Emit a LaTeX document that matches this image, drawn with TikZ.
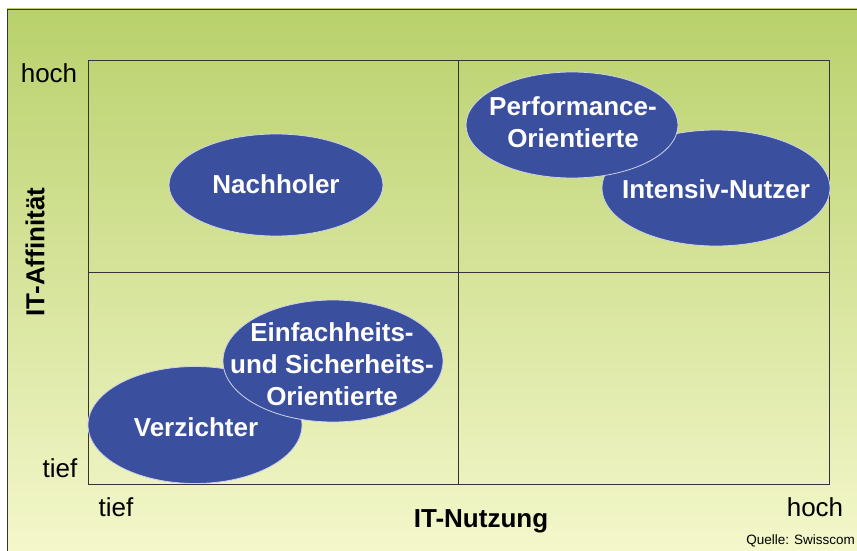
\documentclass[tikz,border=0pt]{standalone}
\usepackage{fontspec}
\setmainfont{Liberation Sans}
\usetikzlibrary{shapes.geometric}
\definecolor{bgtop}{HTML}{B9D16C}
\definecolor{bgbot}{HTML}{F4F7CB}
\definecolor{blobblue}{HTML}{3B4F9F}
\definecolor{gridline}{HTML}{3A3232}
\begin{document}
\begin{tikzpicture}[x=1pt,y=-1pt,
    blob/.style={ellipse,fill=blobblue,draw=white!75!blobblue,line width=0.8pt,inner sep=0pt},
    blobtext/.style={text=white,font=\fontsize{26}{32}\selectfont\bfseries,align=center},
    axis/.style={font=\fontsize{26}{30}\selectfont,inner sep=0pt},
    axistitle/.style={font=\fontsize{26}{30}\selectfont\bfseries,inner sep=0pt}]
    \useasboundingbox (0,0) rectangle (857,551);
    \clip (0,0) rectangle (857,551);
    % background and frame
    \fill[white] (0,0) rectangle (857,551);
    \shade[top color=bgtop,bottom color=bgbot] (7,9) rectangle (857,551);
    \draw[gridline,line width=0.8pt] (7,551)--(7,9)--(857,9);
    % quadrants
    \draw[gridline,line width=0.7pt] (88,60) rectangle (829,484);
    \draw[gridline,line width=0.7pt] (458,60)--(458,484);
    \draw[gridline,line width=0.7pt] (88,272)--(829,272);
    % segments
    \node[blob,minimum width=214pt,minimum height=102pt] (nach) at (276,185) {};
    \node[blob,minimum width=228pt,minimum height=116pt] (intens) at (716,188) {};
    \node[blob,minimum width=212pt,minimum height=106pt] (perf) at (572,125) {};
    \node[blob,minimum width=214pt,minimum height=117pt] (verz) at (195,425) {};
    \node[blob,minimum width=220pt,minimum height=122pt] (einf) at (333,361) {};
    \node[blobtext] (tnach) at (276,184) {Nachholer};
    \node[blobtext] (tintens) at (716,189) {Intensiv-Nutzer};
    \node[blobtext] (tperf) at (573,122) {Performance-\\Orientierte};
    \node[blobtext] (tverz) at (196,427) {Verzichter};
    \node[blobtext] (teinf) at (332,364) {Einfachheits-\\und Sicherheits-\\Orientierte};
    % axes
    \node[axis] (yhoch) at (49,73) {hoch};
    \node[axis] (ytief) at (60,468) {tief};
    \node[axis] (xtief) at (116,507) {tief};
    \node[axis] (xhoch) at (815,507) {hoch};
    \node[axistitle,rotate=90] (ytitle) at (35,252) {IT-Affinität};
    \node[axistitle] (xtitle) at (481,521) {IT-Nutzung};
    \node[font=\fontsize{13.5}{16}\selectfont,anchor=east,inner sep=0pt] (quelle) at (855,541) {Quelle: Swisscom};
\end{tikzpicture}
\end{document}
